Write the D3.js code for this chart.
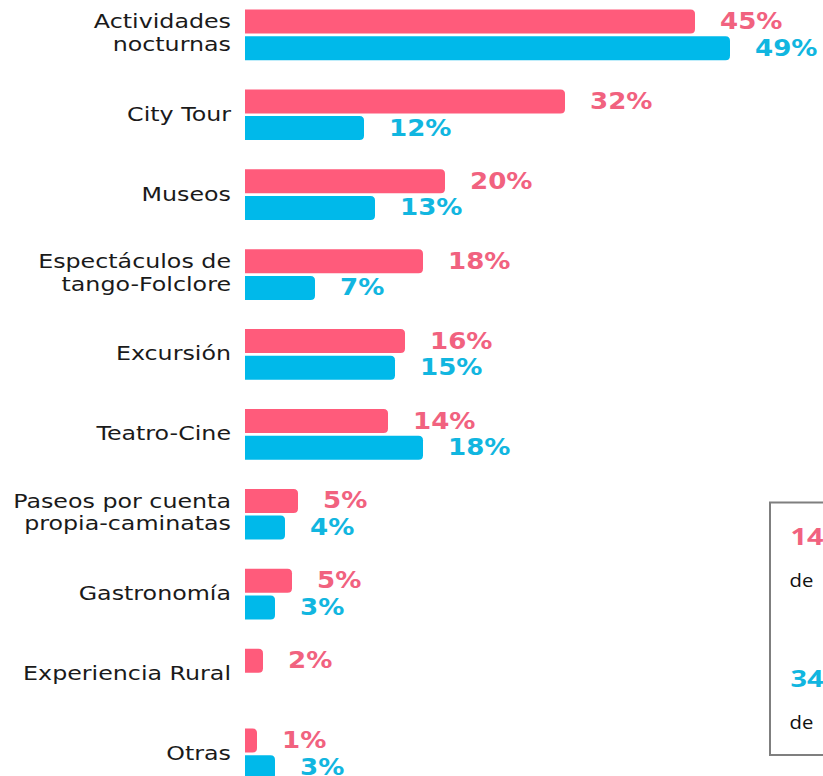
<!DOCTYPE html>
<html>
<head>
<meta charset="utf-8">
<script src="https://cdn.jsdelivr.net/npm/d3@7/dist/d3.min.js"></script>
<style>
  html, body { margin: 0; padding: 0; background: #ffffff; }
  svg { display: block; }
</style>
</head>
<body>
<svg id="chart" width="823" height="776"></svg>
<script>
// ---- data ----
const categories = [
  "Actividades nocturnas", "City Tour", "Museos", "Espectáculos de tango-Folclore",
  "Excursión", "Teatro-Cine", "Paseos por cuenta propia-caminatas", "Gastronomía",
  "Experiencia Rural", "Otras"
];
const categoryLines = [
  ["Actividades", "nocturnas"], ["City Tour"], ["Museos"], ["Espectáculos de", "tango-Folclore"],
  ["Excursión"], ["Teatro-Cine"], ["Paseos por cuenta", "propia-caminatas"], ["Gastronomía"],
  ["Experiencia Rural"], ["Otras"]
];
const seriesKeys = ["pink", "blue"];
const pinkValues = [45.0, 32.0, 20.0, 17.8, 16.0, 14.3, 5.3, 4.7, 1.8, 1.2];
const blueValues = [48.5, 11.9, 13.0, 7.0, 15.0, 17.8, 4.0, 3.0, null, 3.0];
const pinkLabels = ["45%", "32%", "20%", "18%", "16%", "14%", "5%", "5%", "2%", "1%"];
const blueLabels = ["49%", "12%", "13%", "7%", "15%", "18%", "4%", "3%", null, "3%"];
const boxTexts = [
  { big: "14%", small: "de" },
  { big: "34%", small: "de" }
];

// ---- style ----
const colors = { pink: "#ff5b7b", blue: "#00b9ea" };
const textColors = { pink: "#f1627f", blue: "#11b6e0" };
const stretch = 1.16;
const catStretch = 1.2;

const svg = d3.select("#chart");

const x = d3.scaleLinear().domain([0, 50]).range([245, 745]);
const y = d3.scaleBand().domain(categories).range([9.5, 9.5 + 79.9 * categories.length]).paddingInner(0);
const ySub = d3.scaleBand().domain(seriesKeys).range([0, 50.7]).paddingInner(0.101);

const rows = categories.map((c, i) => ({
  cat: c, lines: categoryLines[i],
  vals: { pink: pinkValues[i], blue: blueValues[i] },
  labels: { pink: pinkLabels[i], blue: blueLabels[i] }
}));

function barPath(x0, x1, y0, h, r) {
  const w = x1 - x0;
  r = Math.min(r, w / 2, h / 2);
  return `M${x0},${y0} H${x1 - r} Q${x1},${y0} ${x1},${y0 + r} V${y0 + h - r} Q${x1},${y0 + h} ${x1 - r},${y0 + h} H${x0} Z`;
}

const g = svg.selectAll("g.row").data(rows).join("g").attr("class", "row")
  .attr("transform", d => `translate(0,${y(d.cat)})`);

// bars and value labels
seriesKeys.forEach(k => {
  g.filter(d => d.vals[k] != null)
    .append("path")
    .attr("d", d => barPath(x(0), x(d.vals[k]), ySub(k), ySub.bandwidth(), 4.5))
    .attr("fill", colors[k]);

  g.filter(d => d.labels[k] != null)
    .append("g")
    .attr("transform", d => `translate(${x(d.vals[k]) + 25},${ySub(k) + ySub.bandwidth() / 2 + 7.5}) scale(${stretch},1)`)
    .append("text")
    .attr("text-anchor", "start")
    .attr("font-family", "DejaVu Sans, sans-serif")
    .attr("font-weight", "bold")
    .attr("font-size", 22.5)
    .attr("fill", textColors[k])
    .text(d => d.labels[k]);
});

// category labels
const groupMid = 25.3;
g.each(function(d) {
  const sel = d3.select(this);
  const n = d.lines.length;
  d.lines.forEach((line, j) => {
    const base = n === 1 ? groupMid + 6 : groupMid - 6.4 + j * 22.4;
    sel.append("g")
      .attr("transform", `translate(231,${base}) scale(${catStretch},1)`)
      .append("text")
      .attr("text-anchor", "end")
      .attr("font-family", "DejaVu Sans, sans-serif")
      .attr("font-size", 19.8)
      .attr("fill", "#1a1a1a")
      .text(line);
  });
});

// side box
svg.append("rect")
  .attr("x", 770).attr("y", 502.5)
  .attr("width", 120).attr("height", 252.5)
  .attr("fill", "#ffffff")
  .attr("stroke", "#7f7f7f").attr("stroke-width", 2);

const boxColors = [textColors.pink, textColors.blue];
const boxBase = [545, 687];
boxTexts.forEach((t, i) => {
  svg.append("g").attr("transform", `translate(790.5,${boxBase[i]}) scale(1.2,1)`)
    .append("text")
    .attr("font-family", "Open Sans, sans-serif")
    .attr("font-weight", "bold")
    .attr("font-size", 24)
    .attr("fill", boxColors[i])
    .text(t.big);
  svg.append("g").attr("transform", `translate(789.5,${boxBase[i] + 41.7}) scale(${stretch},1)`)
    .append("text")
    .attr("font-family", "Open Sans, sans-serif")
    .attr("font-size", 17.5)
    .attr("fill", "#111111")
    .text(t.small);
});
</script>
</body>
</html>
